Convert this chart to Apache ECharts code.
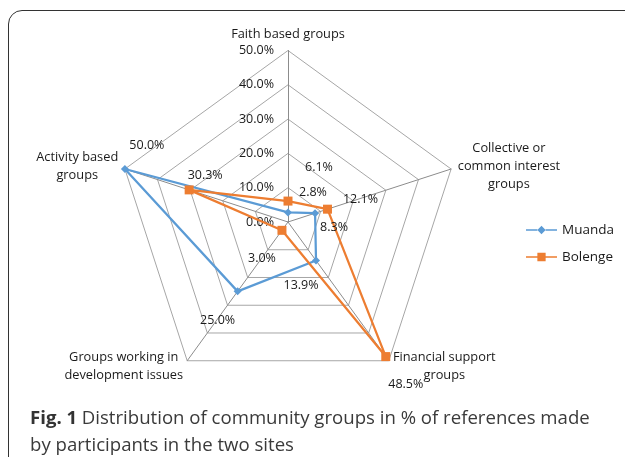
<!DOCTYPE html>
<html><head><meta charset="utf-8">
<script src="https://cdn.jsdelivr.net/npm/echarts@6/dist/echarts.min.js"></script>
<style>
html,body{margin:0;padding:0;background:#fff;}
#wrap{position:relative;width:625px;height:457px;overflow:hidden;}
#frame{position:absolute;left:8px;top:10px;width:660px;height:490px;border:1.5px solid #333;border-radius:14px;box-sizing:border-box;}
#chart{position:absolute;left:0;top:0;width:625px;height:457px;}
</style></head><body>
<div id="wrap"><div id="frame"></div><div id="chart"></div></div>
<script>
// Indicators in ECharts (counter-clockwise) order, starting at the top
const categories = [
  'Faith based groups',
  'Activity based\ngroups',
  'Groups working in\ndevelopment issues',
  'Financial support\ngroups',
  'Collective or\ncommon interest\ngroups'
];
const seriesNames = ['Muanda', 'Bolenge'];
const muanda = [2.8, 50.0, 25.0, 13.9, 8.3];
const bolenge = [6.1, 30.3, 3.0, 48.5, 12.1];
const tickLabels = ['0.0%', '10.0%', '20.0%', '30.0%', '40.0%', '50.0%'];
const axisMax = 50;

// label placement offsets (style) per series, per indicator
const labelOffsets = [
  [[25, -20], [22, -24], [-20, 29], [-15, 25], [19, 14]],
  [[31, -34], [16, -14], [-20, 28], [20, 28], [33, -10]]
];
const values = [muanda, bolenge];
const fmt = v => v.toFixed(1) + '%';
const FONT = 'Open Sans';
const TXT = '#1a1a1a';

const chart = echarts.init(document.getElementById('chart'));
const indicator = categories.map((c, i) => {
  const o = { name: c, max: axisMax, min: 0 };
  if (i === 0) {
    o.axisLabel = {
      show: true, margin: 14, fontSize: 12.5, fontFamily: FONT, color: TXT,
      formatter: v => tickLabels[Math.round(v / 10)] || fmt(v)
    };
  }
  return o;
});

chart.setOption({
  animation: false,
  textStyle: { fontFamily: FONT },
  title: {
    left: 25, top: 400,
    text: '{b|Fig. 1} {n|Distribution of community groups in % of references made}\n{n|by participants in the two sites}',
    textStyle: {
      fontWeight: 'normal',
      rich: {
        b: { fontFamily: FONT, fontSize: 18.6, fontWeight: 'bold', color: '#333', lineHeight: 27 },
        n: { fontFamily: FONT, fontSize: 18.6, fontWeight: 'normal', color: '#3a3a3a', lineHeight: 27 }
      }
    }
  },
  legend: {
    orient: 'vertical', left: 521, top: 218, itemGap: 13,
    itemWidth: 31, itemHeight: 10,
    textStyle: { fontFamily: FONT, fontSize: 13.5, color: TXT },
    data: [
      { name: seriesNames[0], icon: 'path://M0,4.3H11V5.7H0Z M15,1L19,5L15,9L11,5Z M19,4.3H30V5.7H19Z' },
      { name: seriesNames[1], icon: 'path://M0,4.3H11V5.7H0Z M11,1H19V9H11Z M19,4.3H30V5.7H19Z' }
    ]
  },
  radar: {
    center: [288, 222], radius: 171.5,
    startAngle: 90, shape: 'polygon', splitNumber: 5,
    indicator: indicator,
    nameGap: 7,
    axisName: {
      color: TXT, fontSize: 12.8, fontFamily: FONT,
      formatter: v => v.split('\n').map(l => '{c|' + l + '}').join('\n'),
      rich: { c: { align: 'center', fontSize: 12.8, fontFamily: FONT, color: TXT, lineHeight: 18 } }
    },
    axisLabel: { show: false },
    axisTick: { show: false },
    axisLine: { lineStyle: { color: '#8c8c8c', width: 1 } },
    splitLine: { lineStyle: { color: '#a6a6a6', width: 1 } },
    splitArea: { show: false }
  },
  series: [{
    type: 'radar',
    label: {
      show: true, fontSize: 12.5, fontFamily: FONT, color: TXT,
      formatter: p => fmt(p.value)
    },
    labelLayout: function (params) {
      const d = params.dataIndex;
      const vals = values[d];
      const idx = vals.findIndex(v => fmt(v) === params.text);
      if (idx < 0) return {};
      const r = params.rect;
      const off = labelOffsets[d][idx];
      return { x: r.x + r.width / 2 + off[0], y: r.y + r.height / 2 + off[1], align: 'center', verticalAlign: 'middle' };
    },
    data: [
      {
        name: seriesNames[0], value: muanda,
        symbol: 'diamond', symbolSize: 8,
        itemStyle: { color: '#5B9BD5' },
        lineStyle: { color: '#5B9BD5', width: 2.25 }
      },
      {
        name: seriesNames[1], value: bolenge,
        symbol: 'rect', symbolSize: 9,
        itemStyle: { color: '#ED7D31' },
        lineStyle: { color: '#ED7D31', width: 2.25 }
      }
    ]
  }]
});
</script>
</body></html>
